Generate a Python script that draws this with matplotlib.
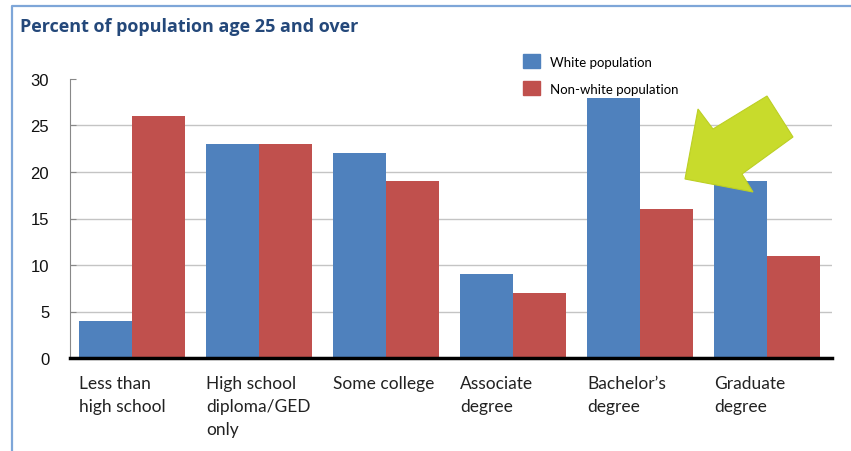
import numpy as np
import matplotlib.pyplot as plt
from matplotlib.patches import Patch, Polygon
from matplotlib.lines import Line2D

# data
categories = ['Less than\nhigh school', 'High school\ndiploma/GED\nonly', 'Some college',
              'Associate\ndegree', 'Bachelor\u2019s\ndegree', 'Graduate\ndegree']
white = [4, 23, 22, 9, 28, 19]
nonwhite = [26, 23, 19, 7, 16, 11]
series_names = ['White population', 'Non-white population']
yticks = [0, 5, 10, 15, 20, 25, 30]

W, H = 851, 452
fig = plt.figure(figsize=(W / 100, H / 100), dpi=100)
ax = fig.add_axes([70 / W, 1 - 359 / H, (832 - 70) / W, (359 - 80) / H])

x = np.arange(len(categories))
w = 0.415
blue = '#4f81bd'
red = '#c0504d'
ax.bar(x - w / 2, white, w, color=blue, zorder=2)
ax.bar(x + w / 2, nonwhite, w, color=red, zorder=2)

ax.set_xlim(-0.488, len(categories) - 1 + 0.512)
ax.set_ylim(0, 30)
ax.set_yticks(yticks)
ax.set_yticklabels([str(v) for v in yticks], family='Liberation Sans', fontsize=12, color='#111111')
ax.yaxis.grid(True, color='#c4c4c4', lw=1, zorder=0)
ax.get_ygridlines()[-1].set_visible(False)
ax.tick_params(axis='y', direction='in', length=4, color='#888888', pad=15)

ax.set_xticks(x - w)
ax.set_xticklabels(categories, family='Lato', fontsize=12.5, color='#222222',
                   ha='left', va='top', linespacing=1.55)
ax.tick_params(axis='x', length=0, pad=12)

for s in ['top', 'right']:
    ax.spines[s].set_visible(False)
ax.spines['left'].set_color('#888888')
ax.spines['left'].set_linewidth(0.8)
ax.spines['bottom'].set_color('black')
ax.spines['bottom'].set_linewidth(2.5)
ax.spines['bottom'].set_zorder(3)

# legend, no frame
handles = [Patch(color=blue), Patch(color=red)]
ax.legend(handles, series_names, loc='upper left', bbox_to_anchor=(523 / W, 1 - 55 / H),
          bbox_transform=fig.transFigure, frameon=False, borderpad=0, borderaxespad=0,
          handlelength=1.3, handleheight=1.3, handletextpad=0.75, labelspacing=0.95,
          prop={'family': 'Lato', 'size': 9.5})

# title
fig.text(20 / W, 1 - 27 / H, 'Percent of population age 25 and over', family='Open Sans',
         fontweight='bold', fontsize=13, color='#24487a', va='center', ha='left')

# yellow-green arrow pointing at the Bachelor's bars
pts = [(685, 180), (698, 110), (713, 130), (767, 97), (793, 138), (742, 175), (753, 193)]
arrow = Polygon([(px / W, 1 - py / H) for px, py in pts], closed=True,
                transform=fig.transFigure, facecolor='#c8db2c', edgecolor='#bccf24',
                lw=0.8, zorder=10)
fig.add_artist(arrow)

# light blue frame on the left and top
frame = Line2D([12 / W, 12 / W, 1.0], [0.0, 1 - 7 / H, 1 - 7 / H], transform=fig.transFigure,
               color='#7ea6d8', lw=1.6)
fig.add_artist(frame)

fig.savefig('out.png', dpi=100)
